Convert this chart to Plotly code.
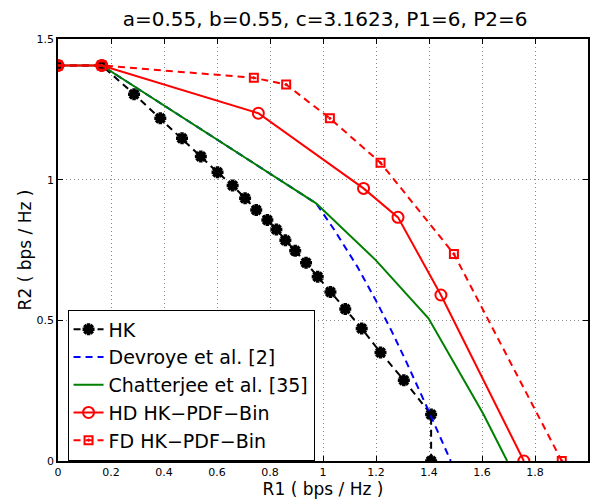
import plotly.graph_objects as go

# Rate-region boundary points (R1, R2) in bps/Hz
hk_r1 = [0.0, 0.165, 0.287, 0.386, 0.468, 0.539, 0.602, 0.659, 0.706, 0.748, 0.790,
         0.824, 0.858, 0.895, 0.936, 0.980, 1.028, 1.084, 1.146, 1.217, 1.305, 1.408, 1.408]
hk_r2 = [1.406, 1.406, 1.304, 1.218, 1.147, 1.082, 1.026, 0.979, 0.934, 0.892, 0.857,
         0.823, 0.785, 0.747, 0.705, 0.655, 0.601, 0.540, 0.471, 0.386, 0.287, 0.165, 0.0]

devroye_r1 = [0.0, 0.165, 0.974, 1.043, 1.130, 1.200, 1.260, 1.317, 1.392, 1.482]
devroye_r2 = [1.406, 1.406, 0.916, 0.821, 0.690, 0.570, 0.460, 0.347, 0.192, 0.0]

chatterjee_r1 = [0.0, 0.165, 0.974, 1.199, 1.398, 1.604, 1.695]
chatterjee_r2 = [1.406, 1.406, 0.916, 0.714, 0.507, 0.169, 0.0]

hd_r1 = [0.0, 0.165, 0.756, 1.153, 1.283, 1.445, 1.758]
hd_r2 = [1.406, 1.406, 1.236, 0.969, 0.866, 0.590, 0.0]

fd_r1 = [0.0, 0.165, 0.739, 0.861, 1.026, 1.217, 1.494, 1.901]
fd_r2 = [1.406, 1.406, 1.362, 1.338, 1.218, 1.060, 0.736, 0.0]

x_ticks = [0, 0.2, 0.4, 0.6, 0.8, 1.0, 1.2, 1.4, 1.6, 1.8]
x_tick_labels = ["0", "0.2", "0.4", "0.6", "0.8", "1", "1.2", "1.4", "1.6", "1.8"]
y_ticks = [0, 0.5, 1.0, 1.5]
y_tick_labels = ["0", "0.5", "1", "1.5"]

FONT = "DejaVu Sans, Verdana, sans-serif"
DASH = "7px,5px"

fig = go.Figure()

fig.add_trace(go.Scatter(
    x=hk_r1, y=hk_r2, mode="lines+markers", name="HK",
    line=dict(color="black", width=2, dash=DASH),
    marker=dict(symbol="asterisk-open", size=10, color="black",
                line=dict(color="black", width=3.5)),
))
fig.add_trace(go.Scatter(
    x=devroye_r1, y=devroye_r2, mode="lines", name="Devroye et al. [2]",
    line=dict(color="#0000ff", width=2, dash=DASH),
))
fig.add_trace(go.Scatter(
    x=chatterjee_r1, y=chatterjee_r2, mode="lines", name="Chatterjee et al. [35]",
    line=dict(color="#008000", width=2),
))
fig.add_trace(go.Scatter(
    x=hd_r1, y=hd_r2, mode="lines+markers", name="HD HK\u2212PDF\u2212Bin",
    line=dict(color="#ff0000", width=2),
    marker=dict(symbol="circle-open", size=11, color="#ff0000",
                line=dict(color="#ff0000", width=2)),
))
fig.add_trace(go.Scatter(
    x=fd_r1, y=fd_r2, mode="lines+markers", name="FD HK\u2212PDF\u2212Bin",
    line=dict(color="#ff0000", width=2, dash=DASH),
    marker=dict(symbol="square-open-dot", size=8, color="#ff0000",
                line=dict(color="#ff0000", width=2)),
))

axis_common = dict(
    showline=True, linecolor="black", linewidth=1.5, mirror="allticks",
    ticks="inside", ticklen=5, tickcolor="black", tickwidth=1,
    showgrid=True, gridcolor="#8a8a8a", gridwidth=1, griddash="1px,3px",
    zeroline=False, tickfont=dict(family=FONT, size=11, color="black"),
)

fig.update_layout(
    width=590, height=504,
    margin=dict(l=58, r=0, t=39, b=43),
    paper_bgcolor="white", plot_bgcolor="white",
    font=dict(family=FONT, color="black"),
    title=dict(text="a=0.55, b=0.55, c=3.1623, P1=6, P2=6",
               font=dict(family=FONT, size=20, color="black"),
               x=0.551, xanchor="center", y=0.962, yanchor="middle"),
    xaxis=dict(range=[0, 2], tickvals=x_ticks, ticktext=x_tick_labels,
               title=dict(text="R1 ( bps / Hz )", font=dict(family=FONT, size=17), standoff=1),
               **axis_common),
    yaxis=dict(range=[0, 1.5], tickvals=y_ticks, ticktext=y_tick_labels,
               title=dict(text="R2 ( bps / Hz )", font=dict(family=FONT, size=17), standoff=1),
               **axis_common),
    legend=dict(x=0.018, y=0.359, xanchor="left", yanchor="top",
                bgcolor="white", bordercolor="black", borderwidth=1,
                font=dict(family=FONT, size=19, color="black"),
                itemwidth=30, tracegroupgap=0),
    showlegend=True,
)

fig.write_html("out.html")
